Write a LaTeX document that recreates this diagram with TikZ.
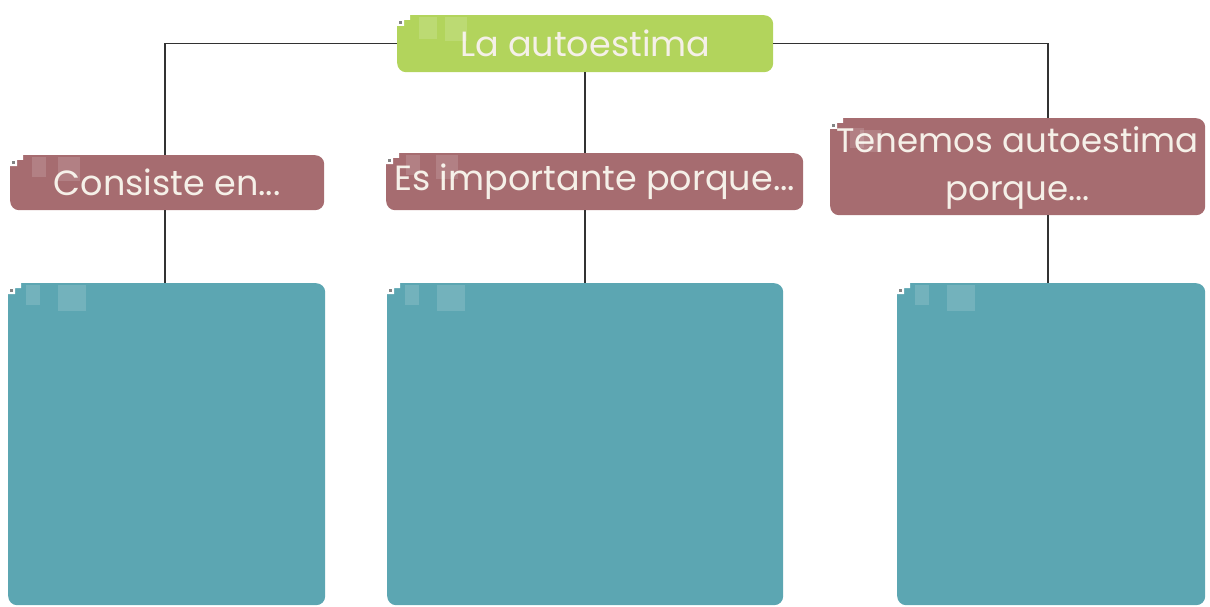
\documentclass[tikz,border=0pt]{standalone}
\usepackage{fontspec}
\setmainfont{Poppins}
\usetikzlibrary{calc}
\definecolor{lime}{RGB}{178,212,92}
\definecolor{mauve}{RGB}{166,108,112}
\definecolor{teal2}{RGB}{92,166,178}
\definecolor{linec}{RGB}{50,50,50}
\definecolor{txt}{RGB}{245,240,232}
\tikzset{
  box/.style={rectangle, rounded corners=9pt, inner sep=0pt, anchor=north west},
  lbl/.style={text=txt, font=\fontsize{35}{40}\selectfont, align=center},
  conn/.style={draw=linec, line width=1.6pt},
  notch/.style={fill=white},
  shade/.style={fill=white, fill opacity=0.14},
}
\begin{document}
\begin{tikzpicture}[x=1pt,y=-1pt]
\useasboundingbox (0,0) rectangle (1210,607);
% nodes
\node[box, fill=lime, minimum width=376pt, minimum height=57pt, lbl] (title) at (397,15) {La autoestima};
\node[box, fill=mauve, minimum width=314pt, minimum height=55pt, lbl] (cons) at (10,155) {Consiste en...};
\node[box, fill=mauve, minimum width=417pt, minimum height=57pt, lbl] (imp) at (386,153) {Es importante porque...};
\node[box, fill=mauve, minimum width=375pt, minimum height=97pt, lbl, font=\fontsize{34}{48}\selectfont, text depth=6pt] (ten) at (830,118) {Tenemos autoestima\\porque...};
\node[box, fill=teal2, minimum width=317pt, minimum height=322pt] (t1) at (8,283) {};
\node[box, fill=teal2, minimum width=396pt, minimum height=322pt] (t2) at (387,283) {};
\node[box, fill=teal2, minimum width=308pt, minimum height=322pt] (t3) at (897,283) {};
\coordinate (lx) at (165,0);
\coordinate (rx) at (1048,0);
\coordinate (mx) at (585,0);
% decorations: notches and light squares
\foreach \n in {title,cons,imp,ten,t1,t2,t3}{
  \fill[notch] (\n.north west) -- ++(13,0) -- ++(0,5) -- ++(-6,0) -- ++(0,6) -- ++(-7,0) -- cycle;
  \fill[linec!60] ($(\n.north west)+(2,6)$) rectangle ++(3,3);
}
\fill[shade] ($(title.north west)+(22,2)$) rectangle ++(18,22);
\fill[shade] ($(title.north west)+(48,2)$) rectangle ++(22,24);
\fill[shade] ($(cons.north west)+(22,2)$) rectangle ++(14,20);
\fill[shade] ($(cons.north west)+(48,2)$) rectangle ++(22,24);
\fill[shade] ($(imp.north west)+(20,2)$) rectangle ++(14,20);
\fill[shade] ($(imp.north west)+(50,2)$) rectangle ++(22,24);
\fill[shade] ($(ten.north west)+(20,10)$) rectangle ++(14,20);
\fill[shade] ($(ten.north west)+(30,12)$) rectangle ++(22,22);
\foreach \n in {t1,t2,t3}{
  \fill[shade] ($(\n.north west)+(18,2)$) rectangle ++(14,20);
  \fill[shade] ($(\n.north west)+(50,2)$) rectangle ++(28,26);
}
% connectors
\draw[conn] (title.west) -| (cons.north -| lx);
\draw[conn] (title.east) -| (ten.north -| rx);
\draw[conn] (title.south -| mx) -- (imp.north -| mx);
\draw[conn] (cons.south -| lx) -- (t1.north -| lx);
\draw[conn] (imp.south -| mx) -- (t2.north -| mx);
\draw[conn] (ten.south -| rx) -- (t3.north -| rx);
\end{tikzpicture}
\end{document}
